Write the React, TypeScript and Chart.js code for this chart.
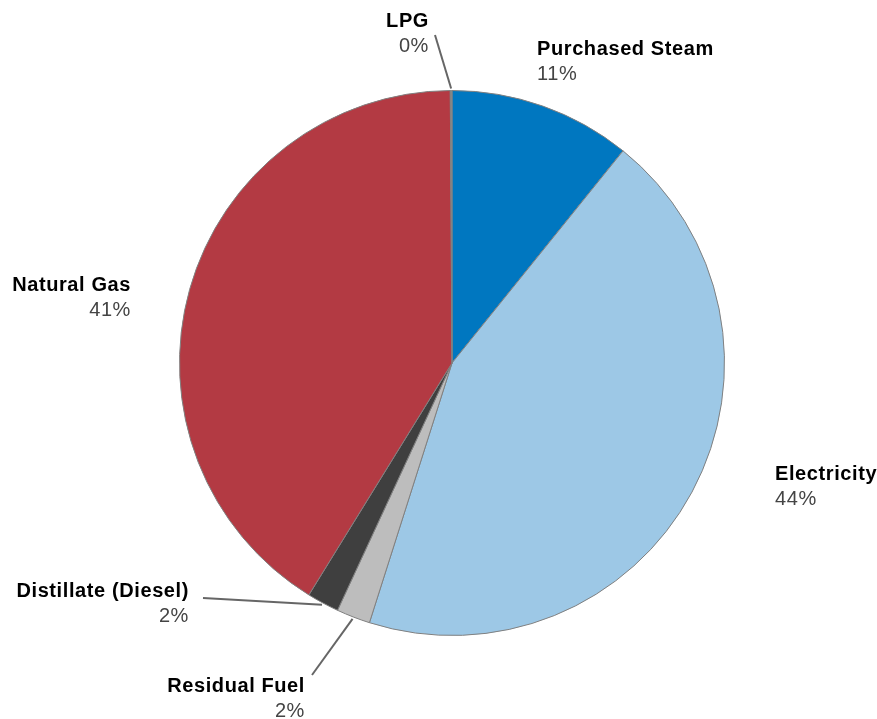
import React, { useEffect, useRef } from "react";
import { Chart, registerables } from "chart.js";

Chart.register(...registerables);

// ---- data ----
const categories = [
  "Purchased Steam",
  "Electricity",
  "Residual Fuel",
  "Distillate (Diesel)",
  "Natural Gas",
  "LPG",
];
const shares = [10.8, 44.1, 2.0, 1.9, 41.1, 0.1];
const sliceColors = ["#0077C0", "#9DC8E6", "#BDBDBD", "#3F3F3F", "#B33A43", "#8C8C8C"];

// ---- label layout (text anchor x, baseline y of name line, alignment, optional leader start) ----
type LabelLayout = { x: number; y: number; align: CanvasTextAlign; leader?: [number, number] };
const labelLayout: LabelLayout[] = [
  { x: 537, y: 55, align: "left" },
  { x: 775, y: 480, align: "left" },
  { x: 305, y: 692, align: "right", leader: [312, 675] },
  { x: 189, y: 597, align: "right", leader: [203, 598] },
  { x: 131, y: 291, align: "right" },
  { x: 429, y: 27, align: "right", leader: [435, 35] },
];

const FONT_FAMILY = '"Liberation Sans", Arial, Helvetica, sans-serif';

const labelPlugin = {
  id: "pieLabels",
  afterDraw(chart: any) {
    const ctx: any = chart.ctx;
    const meta = chart.getDatasetMeta(0);
    const data: number[] = chart.data.datasets[0].data;
    const total = data.reduce((a, b) => a + b, 0);
    ctx.save();
    meta.data.forEach((arc: any, i: number) => {
      const lay = labelLayout[i];
      if (!lay) return;
      if (lay.leader) {
        const mid = (arc.startAngle + arc.endAngle) / 2;
        const r = arc.outerRadius + 2;
        const ex = arc.x + Math.cos(mid) * r;
        const ey = arc.y + Math.sin(mid) * r;
        ctx.beginPath();
        ctx.strokeStyle = "#666666";
        ctx.lineWidth = 2;
        ctx.moveTo(lay.leader[0], lay.leader[1]);
        ctx.lineTo(ex, ey);
        ctx.stroke();
      }
      ctx.textAlign = lay.align;
      ctx.textBaseline = "alphabetic";
      if ("letterSpacing" in ctx) ctx.letterSpacing = "0.6px";
      ctx.fillStyle = "#000000";
      ctx.font = `bold 20px ${FONT_FAMILY}`;
      ctx.fillText(chart.data.labels[i], lay.x, lay.y);
      ctx.fillStyle = "#444444";
      ctx.font = `20px ${FONT_FAMILY}`;
      ctx.fillText(Math.round((data[i] / total) * 100) + "%", lay.x, lay.y + 25);
    });
    ctx.restore();
  },
};

export default function App() {
  const canvasRef = useRef<HTMLCanvasElement | null>(null);

  useEffect(() => {
    if (!canvasRef.current) return;
    const chart = new Chart(canvasRef.current, {
      type: "pie",
      data: {
        labels: categories,
        datasets: [
          {
            data: shares,
            backgroundColor: sliceColors,
            borderColor: "#808080",
            borderWidth: 1,
          },
        ],
      },
      options: {
        responsive: false,
        maintainAspectRatio: false,
        animation: false,
        devicePixelRatio: 1,
        layout: { padding: { left: 179, right: 152, top: 90, bottom: 83 } },
        plugins: {
          legend: { display: false },
          tooltip: { enabled: false },
        },
      },
      plugins: [labelPlugin],
    });
    return () => chart.destroy();
  }, []);

  return (
    <div style={{ position: "absolute", left: 0, top: 0, width: 877, height: 719, background: "#ffffff" }}>
      <canvas ref={canvasRef} width={877} height={719} style={{ width: 877, height: 719, display: "block" }} />
    </div>
  );
}
